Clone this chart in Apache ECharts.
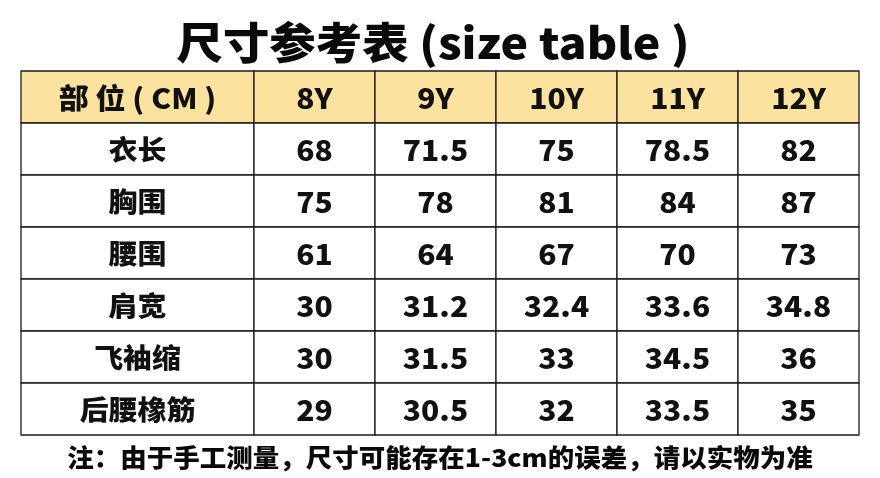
<!DOCTYPE html>
<html>
<head>
<meta charset="utf-8">
<script src="https://cdn.jsdelivr.net/npm/echarts@6/dist/echarts.min.js"></script>
<style>
html,body{margin:0;padding:0;background:#fff;}
#main{width:880px;height:478px;}
</style>
</head>
<body>
<div id="main"></div>
<script>
// ---- data ----
var titleText = '尺寸参考表 (size table )';
var noteText = '注：由于手工测量，尺寸可能存在1-3cm的误差，请以实物为准';
var headerLabel = '部 位 ( CM )';
var sizes = ['8Y', '9Y', '10Y', '11Y', '12Y'];
var parts = ['衣长', '胸围', '腰围', '肩宽', '飞袖缩', '后腰橡筋'];
var row衣长 = ['68', '71.5', '75', '78.5', '82'];
var row胸围 = ['75', '78', '81', '84', '87'];
var row腰围 = ['61', '64', '67', '70', '73'];
var row肩宽 = ['30', '31.2', '32.4', '33.6', '34.8'];
var row飞袖缩 = ['30', '31.5', '33', '34.5', '36'];
var row后腰橡筋 = ['29', '30.5', '32', '33.5', '35'];
var rows = [row衣长, row胸围, row腰围, row肩宽, row飞袖缩, row后腰橡筋];

// ---- build ----
var HEADER = '__header__';
var yCats = [HEADER].concat(parts);
var FONT = '"Noto Sans CJK SC", "Noto Sans", sans-serif';

var labelData = [[0, HEADER, headerLabel]];
parts.forEach(function (p) { labelData.push([0, p, p]); });

var valueData = [];
sizes.forEach(function (s) { valueData.push([s, HEADER, s]); });
rows.forEach(function (r, ri) {
  r.forEach(function (v, ci) { valueData.push([sizes[ci], parts[ri], v]); });
});

function renderCell(params, api) {
  var src = params.seriesIndex === 0 ? labelData : valueData;
  var d = src[params.dataIndex];
  var c = api.coord([api.value(0), api.value(1)]);
  var sz = api.size([1, 1]);
  var isHeader = d[1] === HEADER;
  var isCJK = params.seriesIndex === 0 && !isHeader;
  return {
    type: 'group',
    children: [
      {
        type: 'rect',
        shape: { x: c[0] - sz[0] / 2, y: c[1] - sz[1] / 2, width: sz[0], height: sz[1] },
        style: { fill: isHeader ? '#FBE29F' : '#ffffff', stroke: '#1c1c1c', lineWidth: 1.3 }
      },
      {
        type: 'text',
        x: c[0], y: c[1] + 1,
        scaleX: 1.07,
        style: {
          text: d[2],
          x: 0, y: 0,
          align: 'center', verticalAlign: 'middle',
          font: '900 ' + (isCJK ? 27 : 28) + 'px ' + FONT,
          fill: '#111'
        }
      }
    ]
  };
}

var chart = echarts.init(document.getElementById('main'));
chart.setOption({
  backgroundColor: '#ffffff',
  animation: false,
  grid: [
    { left: 21, width: 233, top: 71, bottom: 43 },
    { left: 254, right: 21, top: 71, bottom: 43 }
  ],
  xAxis: [
    { type: 'category', gridIndex: 0, data: [0], show: false },
    { type: 'category', gridIndex: 1, data: sizes, show: false }
  ],
  yAxis: [
    { type: 'category', gridIndex: 0, data: yCats, inverse: true, show: false },
    { type: 'category', gridIndex: 1, data: yCats, inverse: true, show: false }
  ],
  graphic: [
    {
      type: 'text', x: 433, y: 43, scaleX: 1.08,
      style: { text: titleText, align: 'center', verticalAlign: 'middle', font: '900 43px ' + FONT, fill: '#0a0a0a' }
    },
    {
      type: 'text', x: 440, y: 457, scaleX: 1.06,
      style: { text: noteText, align: 'center', verticalAlign: 'middle', font: '900 25px ' + FONT, fill: '#0a0a0a' }
    }
  ],
  series: [
    { type: 'custom', xAxisIndex: 0, yAxisIndex: 0, data: labelData.map(function (d) { return [d[0], d[1]]; }), renderItem: renderCell },
    { type: 'custom', xAxisIndex: 1, yAxisIndex: 1, data: valueData.map(function (d) { return [d[0], d[1]]; }), renderItem: renderCell }
  ]
});
</script>
</body>
</html>
